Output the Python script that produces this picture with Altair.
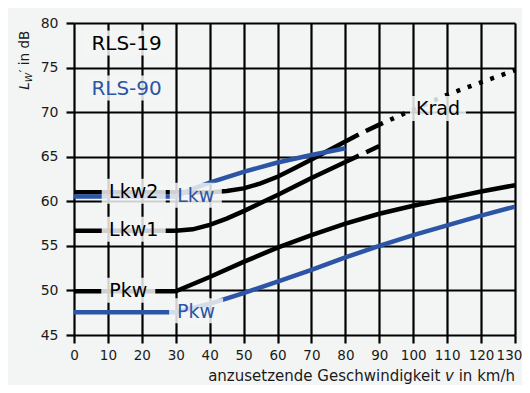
import altair as alt
import pandas as pd

BLUE = "#2d55a6"
BG = "#f3f5f4"
FONT = "DejaVu Sans"

# ---------------- data ----------------
# RLS-19
pkw19_x = [0, 10, 20, 30, 40, 50, 60, 70, 80, 90, 100, 110, 120, 130]
pkw19_y = [49.9, 49.9, 49.9, 49.9, 51.5, 53.2, 54.8, 56.2, 57.5, 58.6, 59.5, 60.3, 61.1, 61.8]

lkw1_x = [0, 10, 20, 30, 35, 40, 45, 50, 55, 60, 65, 70, 75, 80]
lkw1_y = [56.7, 56.7, 56.7, 56.7, 56.85, 57.35, 58.05, 58.9, 59.8, 60.7, 61.65, 62.6, 63.5, 64.4]
lkw1_ext_x = [80, 85, 90]
lkw1_ext_y = [64.4, 65.3, 66.2]

lkw2_x = [0, 10, 20, 30, 40, 45, 50, 55, 60, 65, 70, 75, 80]
lkw2_y = [61.0, 61.0, 61.0, 61.0, 61.0, 61.15, 61.45, 62.0, 62.75, 63.7, 64.7, 65.7, 66.7]
lkw2_ext_x = [80, 85, 90]
lkw2_ext_y = [66.7, 67.7, 68.6]

krad_x = [90, 100, 110, 120, 130]
krad_y = [68.6, 70.3, 71.95, 73.35, 74.7]

# RLS-90
pkw90_x = [0, 10, 20, 30, 40, 50, 60, 70, 80, 90, 100, 110, 120, 130]
pkw90_y = [47.55, 47.55, 47.55, 47.55, 48.5, 49.7, 51.0, 52.3, 53.7, 55.0, 56.2, 57.3, 58.4, 59.4]

lkw90_x = [0, 10, 20, 30, 35, 40, 50, 60, 70, 80]
lkw90_y = [60.55, 60.55, 60.55, 60.55, 61.4, 62.1, 63.3, 64.35, 65.2, 65.95]

# inline labels
label_text = ["RLS-19", "RLS-90", "Lkw2", "Lkw", "Lkw1", "Pkw", "Pkw", "Krad"]
label_x = [15.5, 15.5, 17.6, 35.9, 17.6, 16.0, 36.0, 107.3]
label_y = [77.65, 72.6, 61.0, 60.55, 56.75, 49.9, 47.6, 70.3]
label_grp = ["RLS-19", "RLS-90", "RLS-19", "RLS-90", "RLS-19", "RLS-19", "RLS-90", "RLS-19"]

x_ticks = list(range(0, 131, 10))
y_ticks = list(range(45, 81, 5))

# ---------------- layout ----------------
W, H = 441, 312
XMIN, XMAX, YMIN, YMAX = 0, 130, 45, 80
PX_X = W / (XMAX - XMIN)
PX_Y = H / (YMAX - YMIN)

# ---------------- tables ----------------
def seg(name, grp, xs, ys):
    return pd.DataFrame({"x": xs, "y": ys, "series": name, "grp": grp})

solid = pd.concat([
    seg("Pkw19", "RLS-19", pkw19_x, pkw19_y),
    seg("Lkw1", "RLS-19", lkw1_x, lkw1_y),
    seg("Lkw2", "RLS-19", lkw2_x, lkw2_y),
    seg("Pkw90", "RLS-90", pkw90_x, pkw90_y),
    seg("Lkw90", "RLS-90", lkw90_x, lkw90_y),
], ignore_index=True)
dashed = pd.concat([
    seg("Lkw1d", "RLS-19", lkw1_ext_x, lkw1_ext_y),
    seg("Lkw2d", "RLS-19", lkw2_ext_x, lkw2_ext_y),
], ignore_index=True)
dotted = seg("Krad", "RLS-19", krad_x, krad_y)

# label styling (px)
box_w = [86, 86, 64, 52, 64, 54, 54, 56]
font_px = [20, 20, 19, 19, 19, 19, 19, 19]
box_h = 25
labels = pd.DataFrame({"x": label_x, "y": label_y, "text": label_text, "grp": label_grp, "fs": font_px})
labels["x0"] = [x - w / 2 / PX_X for x, w in zip(label_x, box_w)]
labels["x1"] = [x + w / 2 / PX_X for x, w in zip(label_x, box_w)]
labels["y0"] = [y - box_h / 2 / PX_Y + 0.12 for y in label_y]
labels["y1"] = [y + box_h / 2 / PX_Y + 0.12 for y in label_y]

# ---------------- encodings ----------------
axis_common = dict(grid=True, domain=False, gridColor="black", gridWidth=2.2, gridOpacity=1,
                   tickColor="black", tickWidth=2.2, tickSize=8, format="d",
                   labelFont=FONT, labelColor="#1a1a1a", labelOverlap=False,
                   labelFlush=False, labelBound=False)
XSCALE = alt.Scale(domain=[XMIN, XMAX], nice=False, zero=False)
YSCALE = alt.Scale(domain=[YMIN, YMAX], nice=False, zero=False)
XAXIS = alt.Axis(values=x_ticks, labelPadding=5, labelFontSize=13.5,
                 labelOffset={"condition": {"test": "datum.value == 130", "value": -6}, "value": 0},
                 **axis_common)
YAXIS = alt.Axis(values=y_ticks, labelPadding=8, labelFontSize=14, **axis_common)


def X(field="x"):
    return alt.X(f"{field}:Q", title=None, scale=XSCALE, axis=XAXIS)


def Y(field="y"):
    return alt.Y(f"{field}:Q", title=None, scale=YSCALE, axis=YAXIS)


C = alt.Color("grp:N", scale=alt.Scale(domain=["RLS-19", "RLS-90"], range=["#000000", BLUE]), legend=None)

lines_solid = alt.Chart(solid).mark_line(strokeWidth=4.5).encode(x=X(), y=Y(), color=C, detail="series:N")
lines_dash = alt.Chart(dashed).mark_line(strokeWidth=4.5, strokeDash=[15, 8]).encode(x=X(), y=Y(), color=C, detail="series:N")
lines_dot = alt.Chart(dotted).mark_line(strokeWidth=4.5, strokeDash=[4, 8]).encode(x=X(), y=Y(), color=C, detail="series:N")

boxes = alt.Chart(labels).mark_rect(fill=BG, opacity=0.85, strokeWidth=0).encode(
    x=X("x0"), x2="x1:Q", y=Y("y0"), y2="y1:Q")

texts = alt.Chart(labels).mark_text(font=FONT, baseline="middle", align="center").encode(
    x=X(), y=Y(), text="text:N", color=C, size=alt.Size("fs:Q", scale=None, legend=None))

# axis titles (composite, for italic / subscript parts)
def tpart(s, x, y, **kw):
    return alt.Chart(pd.DataFrame({"t": [s]})).mark_text(font=FONT, color="#1a1a1a", **kw).encode(
        text="t:N", x=alt.value(x), y=alt.value(y))

yt1 = tpart("L", -49, 66.7, fontSize=13.5, fontStyle="italic", angle=270, align="left", baseline="middle")
yt2 = tpart("W", -45.5, 59.3, fontSize=9.5, fontStyle="italic", angle=270, align="left", baseline="middle")
yt3 = tpart("\u2032 in dB", -49, 49.5, fontSize=13.5, angle=270, align="left", baseline="middle")

XB = 357.5
XF = 15
xt1 = tpart("in km/h", 441, XB, fontSize=XF, align="right", baseline="alphabetic")
xt2 = tpart("v", 380, XB, fontSize=XF, fontStyle="italic", align="right", baseline="alphabetic")
xt3 = tpart("anzusetzende Geschwindigkeit", 366.3, XB, fontSize=XF, align="right", baseline="alphabetic")

chart = alt.layer(lines_solid, lines_dash, lines_dot, boxes, texts,
                  yt1, yt2, yt3, xt1, xt2, xt3).properties(
    width=W, height=H,
    padding={"left": 66, "top": 15, "right": 7, "bottom": 50},
    autosize=alt.AutoSizeParams(type="none"),
    background=BG,
).configure_view(stroke=None)

chart.save("out.html", embed_options={"renderer": "svg", "actions": False})
